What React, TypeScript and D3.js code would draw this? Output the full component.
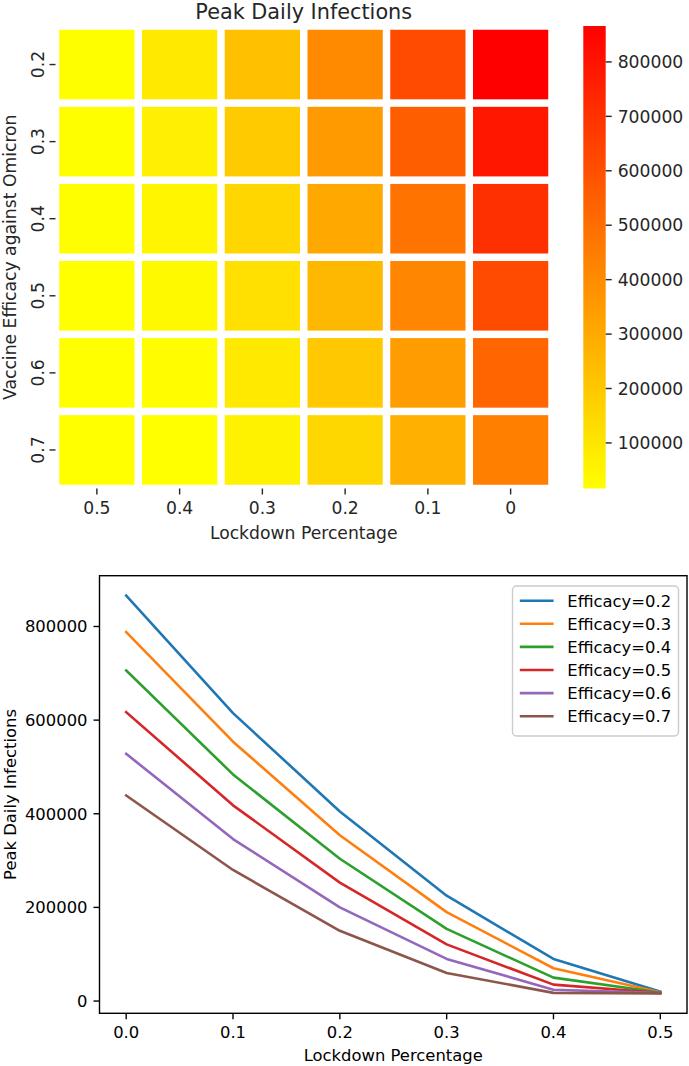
import * as d3 from 'd3';
import React, { useRef, useEffect } from 'react';

// lockdown share on the x axis, vaccine efficacy per series
const lockdown = [0, 0.1, 0.2, 0.3, 0.4, 0.5];
const efficacy = [0.2, 0.3, 0.4, 0.5, 0.6, 0.7];

// peak daily infections, one list per efficacy, ordered by lockdown above
const eff02 = [866000, 615000, 405000, 225000, 90000, 20000];
const eff03 = [788000, 554000, 354000, 190000, 70000, 19000];
const eff04 = [706000, 484000, 304000, 154000, 50000, 18000];
const eff05 = [617000, 418000, 253000, 121000, 35000, 17500];
const eff06 = [528000, 346000, 200000, 90000, 24000, 17000];
const eff07 = [439000, 280000, 150000, 60000, 17500, 16300];

const heatCols = ['0.5', '0.4', '0.3', '0.2', '0.1', '0'];
const heatRows = ['0.2', '0.3', '0.4', '0.5', '0.6', '0.7'];
const cbarTicks = [100000, 200000, 300000, 400000, 500000, 600000, 700000, 800000];
const lineXTicks = [0, 0.1, 0.2, 0.3, 0.4, 0.5];
const lineYTicks = [0, 200000, 400000, 600000, 800000];

const series = [eff02, eff03, eff04, eff05, eff06, eff07];
const palette = ['#1f77b4', '#ff7f0e', '#2ca02c', '#d62728', '#9467bd', '#8c564b'];

const FONT = '"DejaVu Sans", sans-serif';

function App() {
    const ref = useRef<SVGSVGElement>(null);

    useEffect(() => {
        const svg = d3.select(ref.current);
        svg.selectAll('*').remove();
        drawHeatmap(svg);
        drawLines(svg);
    }, []);

    const drawHeatmap = (svg: any) => {
        const left = 55.5, right = 552, top = 26, bottom = 488.5;
        const fs = 17.2;
        const txt = '#262626';

        const all = series.flat();
        const [vmin, vmax] = d3.extent(all) as [number, number];
        const color = d3.scaleLinear<string>()
            .domain([vmin, vmax])
            .range(['#ffff00', '#ff0000'])
            .interpolate(d3.interpolateRgb);

        const x = d3.scaleBand().domain(heatCols).range([left, right]);
        const y = d3.scaleBand().domain(heatRows).range([top, bottom]);

        // cells: column label -> index into lockdown array
        const cells: any[] = [];
        heatRows.forEach((r, i) => {
            heatCols.forEach(c => {
                const li = lockdown.indexOf(+c);
                cells.push({ r, c, v: series[i][li] });
            });
        });

        const g = svg.append('g');
        const lw = 7.5;
        g.selectAll('rect.cell')
            .data(cells)
            .enter().append('rect')
            .attr('class', 'cell')
            .attr('x', (d: any) => x(d.c)! + lw / 2)
            .attr('y', (d: any) => y(d.r)! + lw / 2)
            .attr('width', x.bandwidth() - lw)
            .attr('height', y.bandwidth() - lw)
            .attr('fill', (d: any) => color(d.v));

        // x ticks
        heatCols.forEach(c => {
            const cx = x(c)! + x.bandwidth() / 2;
            g.append('line').attr('x1', cx).attr('x2', cx)
                .attr('y1', bottom).attr('y2', bottom + 6)
                .attr('stroke', txt).attr('stroke-width', 1.4);
            g.append('text').attr('x', cx).attr('y', bottom + 25)
                .attr('text-anchor', 'middle')
                .style('font-family', FONT).style('font-size', fs + 'px').style('fill', txt)
                .text(c);
        });

        // y ticks, labels turned on their side
        heatRows.forEach(r => {
            const cy = y(r)! + y.bandwidth() / 2;
            g.append('line').attr('x1', left - 6).attr('x2', left)
                .attr('y1', cy).attr('y2', cy)
                .attr('stroke', txt).attr('stroke-width', 1.4);
            g.append('text')
                .attr('transform', `translate(${left - 12},${cy}) rotate(-90)`)
                .attr('text-anchor', 'middle')
                .style('font-family', FONT).style('font-size', fs + 'px').style('fill', txt)
                .text(r);
        });

        g.append('text')
            .attr('x', (left + right) / 2).attr('y', 19)
            .attr('text-anchor', 'middle')
            .style('font-family', FONT).style('font-size', '20.8px').style('fill', txt)
            .text('Peak Daily Infections');

        g.append('text')
            .attr('x', (left + right) / 2).attr('y', 539)
            .attr('text-anchor', 'middle')
            .style('font-family', FONT).style('font-size', fs + 'px').style('fill', txt)
            .text('Lockdown Percentage');

        g.append('text')
            .attr('transform', `translate(16,${(top + bottom) / 2}) rotate(-90)`)
            .attr('text-anchor', 'middle')
            .style('font-family', FONT).style('font-size', fs + 'px').style('fill', txt)
            .text('Vaccine Efficacy against Omicron');

        // colorbar
        const cbL = 583.3, cbW = 22.4;
        const cy = d3.scaleLinear().domain([vmin, vmax]).range([bottom, top]);
        const defs = svg.append('defs');
        const grad = defs.append('linearGradient')
            .attr('id', 'cbar').attr('x1', 0).attr('x2', 0).attr('y1', 1).attr('y2', 0);
        grad.append('stop').attr('offset', '0%').attr('stop-color', color(vmin));
        grad.append('stop').attr('offset', '100%').attr('stop-color', color(vmax));
        g.append('rect').attr('x', cbL).attr('y', top)
            .attr('width', cbW).attr('height', bottom - top)
            .attr('fill', 'url(#cbar)');
        cbarTicks.forEach(t => {
            g.append('line').attr('x1', cbL + cbW).attr('x2', cbL + cbW + 6)
                .attr('y1', cy(t)).attr('y2', cy(t))
                .attr('stroke', txt).attr('stroke-width', 1.4);
            g.append('text').attr('x', cbL + cbW + 12).attr('y', cy(t))
                .attr('dy', '0.36em')
                .style('font-family', FONT).style('font-size', fs + 'px').style('fill', txt)
                .text(t);
        });
    };

    const drawLines = (svg: any) => {
        const left = 99.5, right = 687, top = 575.7, bottom = 1013.3;
        const fs = 16.4;

        const all = series.flat();
        const [lo, hi] = d3.extent(all) as [number, number];
        const padY = (hi - lo) * 0.05;
        const x = d3.scaleLinear().domain([-0.025, 0.525]).range([left, right]);
        const y = d3.scaleLinear().domain([lo - padY, hi + padY]).range([bottom, top]);

        const g = svg.append('g');

        const line = d3.line<number>()
            .x((d, i) => x(lockdown[i]))
            .y(d => y(d));

        series.forEach((s, i) => {
            g.append('path')
                .datum(s)
                .attr('d', line)
                .attr('fill', 'none')
                .attr('stroke', palette[i])
                .attr('stroke-width', 2.6)
                .attr('stroke-linejoin', 'round')
                .attr('stroke-linecap', 'square');
        });

        g.append('rect').attr('x', left).attr('y', top)
            .attr('width', right - left).attr('height', bottom - top)
            .attr('fill', 'none').attr('stroke', '#000').attr('stroke-width', 1.4);

        lineXTicks.forEach(t => {
            g.append('line').attr('x1', x(t)).attr('x2', x(t))
                .attr('y1', bottom).attr('y2', bottom + 6)
                .attr('stroke', '#000').attr('stroke-width', 1.4);
            g.append('text').attr('x', x(t)).attr('y', bottom + 25)
                .attr('text-anchor', 'middle')
                .style('font-family', FONT).style('font-size', fs + 'px').style('fill', '#000')
                .text(d3.format('.1f')(t));
        });
        lineYTicks.forEach(t => {
            g.append('line').attr('x1', left - 6).attr('x2', left)
                .attr('y1', y(t)).attr('y2', y(t))
                .attr('stroke', '#000').attr('stroke-width', 1.4);
            g.append('text').attr('x', left - 12).attr('y', y(t))
                .attr('dy', '0.36em')
                .attr('text-anchor', 'end')
                .style('font-family', FONT).style('font-size', fs + 'px').style('fill', '#000')
                .text(t);
        });

        g.append('text')
            .attr('x', (left + right) / 2).attr('y', 1061)
            .attr('text-anchor', 'middle')
            .style('font-family', FONT).style('font-size', fs + 'px').style('fill', '#000')
            .text('Lockdown Percentage');
        g.append('text')
            .attr('transform', `translate(16,${(top + bottom) / 2}) rotate(-90)`)
            .attr('text-anchor', 'middle')
            .style('font-family', FONT).style('font-size', fs + 'px').style('fill', '#000')
            .text('Peak Daily Infections');

        // legend
        const lg = g.append('g');
        lg.append('rect')
            .attr('x', 512.5).attr('y', 586)
            .attr('width', 678.5 - 512.5).attr('height', 736 - 586)
            .attr('rx', 4)
            .attr('fill', 'white').attr('fill-opacity', 0.8)
            .attr('stroke', '#cccccc').attr('stroke-width', 1.4);
        efficacy.forEach((e, i) => {
            const ly = 600.7 + i * 23.1;
            lg.append('line')
                .attr('x1', 519.8).attr('x2', 553.6)
                .attr('y1', ly).attr('y2', ly)
                .attr('stroke', palette[i]).attr('stroke-width', 2.6);
            lg.append('text')
                .attr('x', 567.3).attr('y', ly).attr('dy', '0.36em')
                .style('font-family', FONT).style('font-size', fs + 'px').style('fill', '#000')
                .text('Efficacy=' + e);
        });
    };

    return (
        <div className="chart" style={{ position: 'absolute', left: 0, top: 0 }}>
            <svg ref={ref} width={689} height={1066} style={{ display: 'block', background: 'white' }}>
            </svg>
        </div>
    );
}

export default App;
